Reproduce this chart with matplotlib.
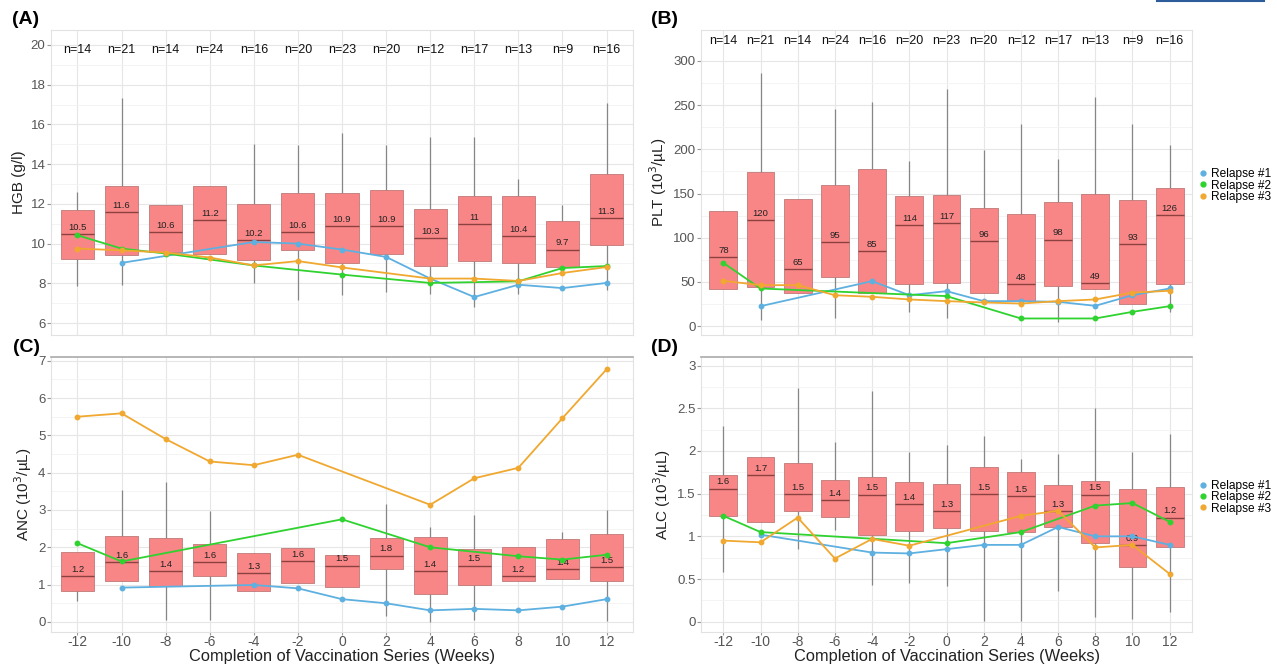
import matplotlib
matplotlib.use('Agg')
import matplotlib.pyplot as plt
from matplotlib.lines import Line2D
import numpy as np

plt.rcParams['font.family'] = ['Liberation Sans', 'DejaVu Sans']
plt.rcParams['axes.unicode_minus'] = False

nan = np.nan
weeks = [-12, -10, -8, -6, -4, -2, 0, 2, 4, 6, 8, 10, 12]
n_counts = [14, 21, 14, 24, 16, 20, 23, 20, 12, 17, 13, 9, 16]
relapse_names = ['Relapse #1', 'Relapse #2', 'Relapse #3']

# (A) HGB
hgb_q1 = [9.24, 9.41, 9.58, 9.5, 9.16, 9.7, 9.0, 9.5, 8.86, 9.13, 9.02, 8.82, 9.95]
hgb_med = [10.5, 11.6, 10.6, 11.2, 10.2, 10.6, 10.9, 10.9, 10.3, 11.0, 10.4, 9.7, 11.3]
hgb_q3 = [11.7, 12.92, 11.95, 12.89, 11.98, 12.57, 12.55, 12.69, 11.73, 12.42, 12.42, 11.13, 13.51]
hgb_lo = [7.85, 7.93, 9.58, 9.5, 8.0, 7.14, 7.4, 7.56, 7.48, 6.8, 7.48, 8.82, 7.65]
hgb_hi = [12.6, 17.35, 11.95, 12.89, 15.0, 14.96, 15.55, 14.96, 15.38, 15.38, 13.23, 11.93, 17.06]
hgb_rel1 = [nan, 9.03, nan, nan, 10.08, 10.0, 9.7, 9.33, 8.24, 7.31, 7.93, 7.76, 8.02]
hgb_rel2 = [10.42, 9.75, 9.5, nan, 8.9, nan, 8.44, nan, 8.02, nan, 8.1, 8.77, 8.87]
hgb_rel3 = [9.75, 9.66, 9.55, 9.3, 8.9, 9.12, 8.8, nan, 8.24, 8.24, 8.12, 8.52, 8.82]

# (B) PLT
plt_q1 = [41.5, 44.5, 37, 55.8, 37.7, 47.5, 49, 37, 28.6, 45.2, 41.5, 24.9, 47.5]
plt_med = [78, 120, 65, 95, 85, 114, 117, 96, 48, 98, 49, 93, 126]
plt_q3 = [130.4, 174.5, 144.4, 159.4, 178.3, 147.4, 148.9, 134.2, 127.4, 140.6, 150, 143.2, 156.4]
plt_lo = [41.5, 7.5, 37, 8.7, 37.7, 16, 8.7, 37, 28.6, 4.9, 41.5, 24.9, 16]
plt_hi = [130.4, 286.5, 144.4, 246, 253.7, 187, 268.7, 199, 229, 189.6, 259, 229, 204.7]
plt_rel1 = [nan, 22.6, nan, nan, 50.9, 35, 39.6, 28.3, 28.3, 27.5, 23, 35, 42.6]
plt_rel2 = [71.6, 42.6, nan, nan, nan, nan, 34, nan, 8.7, nan, 8.7, 16.2, 22.6]
plt_rel3 = [51.3, 46.4, 46.4, 35, 33.2, 30.2, 28.3, 26.8, 25.6, 28.3, 30.2, 38, 40]

# (C) ANC
anc_q1 = [0.84, 1.1, 0.96, 1.22, 0.84, 1.03, 0.94, 1.41, 0.75, 1.0, 1.09, 1.14, 1.09]
anc_med = [1.24, 1.6, 1.36, 1.6, 1.32, 1.63, 1.51, 1.78, 1.36, 1.51, 1.23, 1.41, 1.47]
anc_q3 = [1.87, 2.29, 2.26, 2.09, 1.84, 1.98, 1.8, 2.24, 2.28, 1.95, 2.02, 2.22, 2.35]
anc_lo = [0.55, 1.1, 0.04, 0.04, 0.84, 1.03, 0.94, 0.15, 0.0, 0.04, 1.09, 1.14, 0.02]
anc_hi = [1.87, 3.54, 3.76, 2.98, 1.84, 1.98, 1.8, 3.16, 2.54, 2.86, 2.02, 2.4, 3.01]
anc_rel1 = [nan, 0.92, nan, nan, 0.99, 0.9, 0.61, 0.5, 0.31, 0.35, 0.31, 0.41, 0.61]
anc_rel2 = [2.11, 1.62, nan, nan, nan, nan, 2.75, nan, 2.0, nan, 1.76, 1.67, 1.8]
anc_rel3 = [5.5, 5.59, 4.9, 4.3, 4.2, 4.48, nan, nan, 3.14, 3.85, 4.13, 5.46, 6.77]

# (D) ALC
alc_q1 = [1.24, 1.17, 1.3, 1.23, 1.01, 1.06, 1.1, 1.06, 1.05, 1.11, 0.92, 0.64, 0.88]
alc_med = [1.56, 1.72, 1.5, 1.42, 1.49, 1.38, 1.3, 1.5, 1.47, 1.3, 1.49, 0.9, 1.22]
alc_q3 = [1.72, 1.93, 1.86, 1.66, 1.7, 1.64, 1.61, 1.81, 1.75, 1.6, 1.65, 1.56, 1.58]
alc_lo = [0.58, 1.17, 0.85, 1.07, 0.43, 0.45, 0.42, 0.01, 0.01, 0.36, 0.05, 0.03, 0.12]
alc_hi = [2.29, 1.93, 2.74, 2.1, 2.7, 1.99, 2.07, 2.18, 1.9, 1.97, 2.5, 1.99, 2.2]
alc_rel1 = [nan, 1.02, nan, nan, 0.81, 0.8, 0.85, 0.9, 0.9, 1.11, 1.0, 1.0, 0.9]
alc_rel2 = [1.24, 1.05, nan, nan, nan, nan, 0.92, nan, 1.05, nan, 1.36, 1.39, 1.17]
alc_rel3 = [0.95, 0.93, 1.22, 0.74, 0.97, 0.89, nan, nan, 1.24, 1.3, 0.87, 0.9, 0.56]

rel_colors = ['#5eb0e0', '#2fd22f', '#f0a830']
box_color = '#f98686'
W, H = 1277, 669


def make_axes(fig, left, top, right, bottom):
    return fig.add_axes([left / W, 1 - bottom / H, (right - left) / W, (bottom - top) / H])


def draw_panel(ax, q1, med, q3, lo, hi, rels, yticks, ylim, ylabel, show_x):
    x = np.array(weeks)
    ax.set_xlim(-13.2, 13.2)
    ax.set_ylim(*ylim)
    ax.set_yticks(yticks)
    ax.set_yticklabels([f'{t:g}' for t in yticks])
    minor = [(a + b) / 2 for a, b in zip(yticks[:-1], yticks[1:])]
    ax.set_yticks(minor, minor=True)
    ax.set_xticks(weeks)
    ax.grid(True, which='major', color='#e6e6e6', lw=0.8, zorder=0)
    ax.grid(True, which='minor', axis='y', color='#f2f2f2', lw=0.6, zorder=0)
    ax.set_axisbelow(True)
    for s in ax.spines.values():
        s.set_color('#e2e2e2')
        s.set_linewidth(0.8)
    ax.tick_params(axis='y', which='major', length=3, color='#999999', labelcolor='#555555', labelsize=9.5, pad=1)
    ax.tick_params(axis='y', which='minor', length=0)
    if show_x:
        ax.tick_params(axis='x', length=2, color='#999999', labelcolor='#555555', labelsize=10, pad=0.5)
        ax.set_xlabel('Completion of Vaccination Series (Weeks)', fontsize=11.8, color='#222222', labelpad=0)
    else:
        ax.tick_params(axis='x', length=0, labelbottom=False)

    # whiskers, boxes and medians
    ax.vlines(x, lo, hi, color='#666666', lw=0.9, alpha=0.75, zorder=2)
    ax.bar(x, np.array(q3) - np.array(q1), bottom=q1, width=1.5, color=box_color,
           edgecolor='#c07878', linewidth=0.6, zorder=3)
    ax.hlines(med, x - 0.75, x + 0.75, color='#7a3434', lw=1.0, alpha=0.85, zorder=4)
    for xi, m in zip(x, med):
        ax.annotate(f'{round(m, 1):g}', (xi, m), xytext=(0, 1.5), textcoords='offset points',
                    ha='center', va='bottom', fontsize=6.8, color='#222222', zorder=5)

    # relapse lines
    for vals, c in zip(rels, rel_colors):
        v = np.array(vals, dtype=float)
        ok = ~np.isnan(v)
        ax.plot(x[ok], v[ok], color=c, lw=1.3, marker='o', ms=3.2, zorder=6)
    ax.set_ylabel(ylabel, fontsize=11, color='#222222', labelpad=3)


def add_legend(ax):
    handles = [Line2D([], [], color=c, marker='o', ls='none', ms=3.5) for c in rel_colors]
    ax.legend(handles, relapse_names, loc='center left', bbox_to_anchor=(1.0, 0.49),
              frameon=False, fontsize=8.6, handletextpad=0.15, labelspacing=-0.05,
              handlelength=1.0, borderaxespad=0.05)


fig = plt.figure(figsize=(W / 100, H / 100), dpi=100)

axA = make_axes(fig, 51, 30, 633, 335)
draw_panel(axA, hgb_q1, hgb_med, hgb_q3, hgb_lo, hgb_hi, [hgb_rel1, hgb_rel2, hgb_rel3],
           [6, 8, 10, 12, 14, 16, 18, 20], (5.4, 20.75), 'HGB (g/l)', False)
for xi, n in zip(weeks, n_counts):
    axA.text(xi, 19.75, f'n={n}', ha='center', va='center', fontsize=9, color='#111111')

axB = make_axes(fig, 701, 30, 1192, 335)
draw_panel(axB, plt_q1, plt_med, plt_q3, plt_lo, plt_hi, [plt_rel1, plt_rel2, plt_rel3],
           [0, 50, 100, 150, 200, 250, 300], (-10, 335), 'PLT (10$^3$/µL)', False)
for xi, n in zip(weeks, n_counts):
    axB.text(xi, 322, f'n={n}', ha='center', va='center', fontsize=9, color='#111111')
add_legend(axB)

axC = make_axes(fig, 51, 357, 633, 632)
draw_panel(axC, anc_q1, anc_med, anc_q3, anc_lo, anc_hi, [anc_rel1, anc_rel2, anc_rel3],
           [0, 1, 2, 3, 4, 5, 6, 7], (-0.27, 7.1), 'ANC (10$^3$/µL)', True)

axD = make_axes(fig, 701, 357, 1192, 632)
draw_panel(axD, alc_q1, alc_med, alc_q3, alc_lo, alc_hi, [alc_rel1, alc_rel2, alc_rel3],
           [0, 0.5, 1, 1.5, 2, 2.5, 3], (-0.12, 3.1), 'ALC (10$^3$/µL)', True)
add_legend(axD)

for ax in (axC, axD):
    ax.spines['top'].set_color('#aaaaaa')
    ax.spines['top'].set_linewidth(1.2)

for lab, px, py in [('(A)', 26, 20), ('(B)', 664, 20), ('(C)', 26, 347), ('(D)', 664, 347)]:
    fig.text(px / W, 1 - py / H, lab, ha='center', va='center', fontsize=14, fontweight='bold')

fig.add_artist(Line2D([1157 / W, 1264 / W], [1 - 1 / H, 1 - 1 / H], color='#2c5d9a', lw=1.5))

fig.savefig('out.png', dpi=100)
